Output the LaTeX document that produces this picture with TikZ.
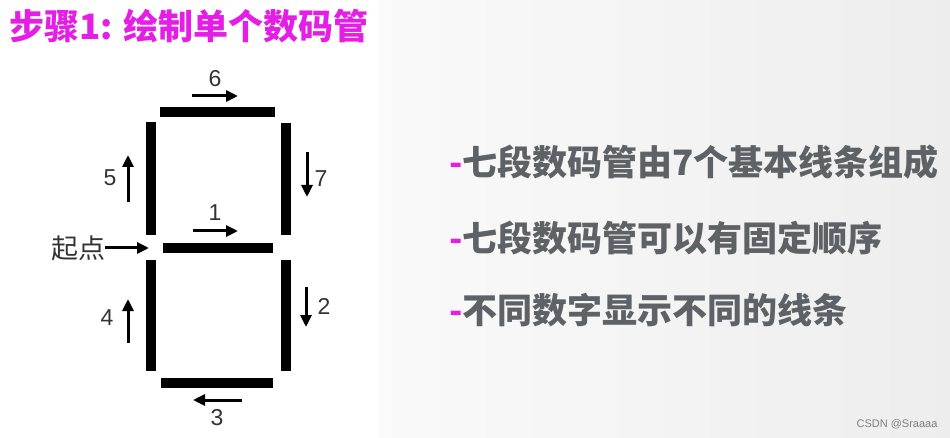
\documentclass[tikz,border=0pt]{standalone}
\usepackage{fontspec}
\setmainfont{Liberation Sans}
\newfontfamily\cjk{Noto Sans CJK SC}
\usetikzlibrary{arrows.meta}
\definecolor{titlemagenta}{RGB}{228,30,228}
\definecolor{bulletgray}{RGB}{94,98,102}
\definecolor{labelgray}{RGB}{51,51,51}

\begin{document}
\begin{tikzpicture}[x=1pt, y=-1pt,
    seg/.style={line width=10pt},
    dirarrow/.style={line width=3pt, -{Triangle[length=12pt,width=11pt]}},
    num/.style={font=\fontsize{23}{23}\selectfont, text=labelgray, inner sep=0pt},
    bullet/.style={anchor=west, inner sep=0pt, text=bulletgray,
      font=\cjk\bfseries\fontsize{35}{36}\selectfont}]
    \useasboundingbox (0,0) rectangle (950,438);
    \fill[white] (0,0) rectangle (378,438);
    \shade[left color=black!2, right color=black!7] (378,0) rectangle (950,438);
    % title
    \node[anchor=west, inner sep=0pt, text=titlemagenta,
      font=\cjk\bfseries\fontsize{35}{35}\selectfont] (title) at (9,26) {步骤1: 绘制单个数码管};
    % the seven segments
    \draw[seg] (160,112) -- (275,112);
    \draw[seg] (150.5,122) -- (150.5,235);
    \draw[seg] (286,123) -- (286,235);
    \draw[seg] (163,248) -- (273,248);
    \draw[seg] (150.5,260) -- (150.5,371);
    \draw[seg] (286,260) -- (286,371);
    \draw[seg] (161,383) -- (273,383);
    % drawing order
    \draw[dirarrow] (192,96) -- (238,96);
    \node[num] (n6) at (215,79) {6};
    \draw[dirarrow] (128,202) -- (128,155);
    \node[num] (n5) at (110,178) {5};
    \draw[dirarrow] (307,152) -- (307,197);
    \node[num] (n7) at (321,179) {7};
    \draw[dirarrow] (193,231) -- (238,231);
    \node[num] (n1) at (215,213) {1};
    \draw[dirarrow] (306,287) -- (306,327);
    \node[num] (n2) at (324,306) {2};
    \draw[dirarrow] (242,400) -- (193,400);
    \node[num] (n3) at (217,418) {3};
    \draw[dirarrow] (128,343) -- (128,299);
    \node[num] (n4) at (107,318) {4};
    \node[inner sep=0pt, text=labelgray, font=\cjk\fontsize{27}{27}\selectfont] (start) at (78,248) {起点};
    \draw[dirarrow] (start.east) -- (149,248);
    % notes
    \node[bullet] (b1) at (449,162) {\textcolor{titlemagenta}{-}七段数码管由7个基本线条组成};
    \node[bullet] (b2) at (449,238) {\textcolor{titlemagenta}{-}七段数码管可以有固定顺序};
    \node[bullet] (b3) at (449,310) {\textcolor{titlemagenta}{-}不同数字显示不同的线条};
    \node[font=\fontsize{11}{11}\selectfont, text=black!50] (mark) at (897,424) {CSDN @Sraaaa};
\end{tikzpicture}
\end{document}
